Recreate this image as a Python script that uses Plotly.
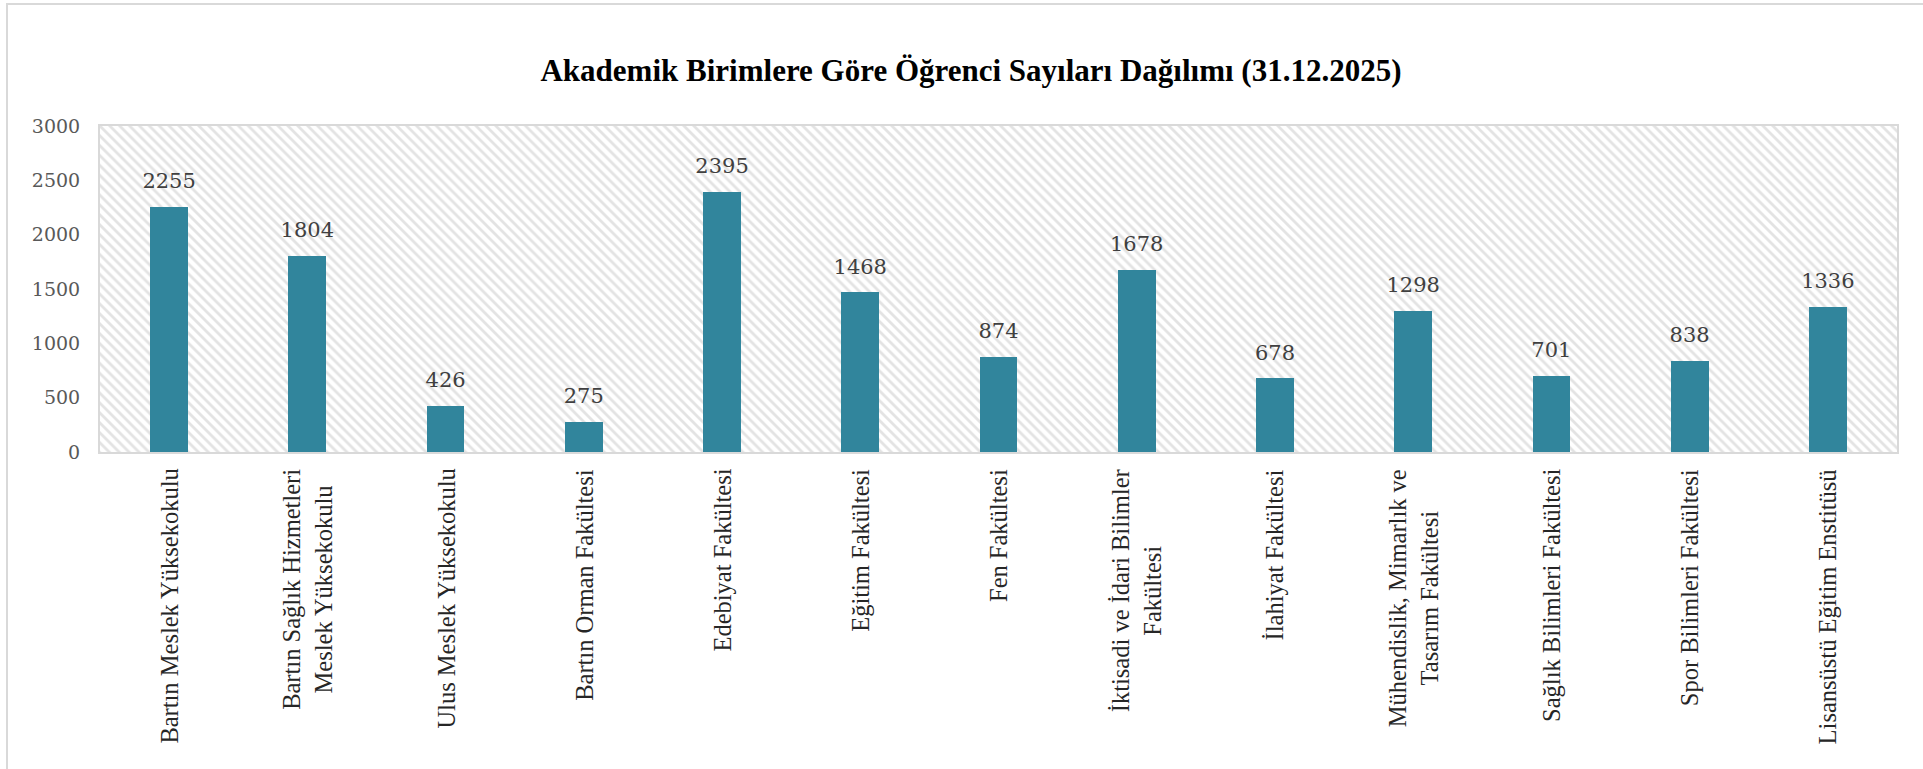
import plotly.graph_objects as go

categories = [
    "Bartın Meslek Yüksekokulu",
    "Bartın Sağlık Hizmetleri<br>Meslek Yüksekokulu",
    "Ulus Meslek Yüksekokulu",
    "Bartın Orman Fakültesi",
    "Edebiyat Fakültesi",
    "Eğitim Fakültesi",
    "Fen Fakültesi",
    "İktisadi ve İdari Bilimler<br>Fakültesi",
    "İlahiyat Fakültesi",
    "Mühendislik, Mimarlık ve<br>Tasarım Fakültesi",
    "Sağlık Bilimleri Fakültesi",
    "Spor Bilimleri Fakültesi",
    "Lisansüstü Eğitim Enstitüsü",
]
students = [2255, 1804, 426, 275, 2395, 1468, 874, 1678, 678, 1298, 701, 838, 1336]
y_ticks = [0, 500, 1000, 1500, 2000, 2500, 3000]
title = "Akademik Birimlere Göre Öğrenci Sayıları Dağılımı (31.12.2025)"

y_max = y_ticks[-1]
grid = "#d9d9d9"
W, H = 1923, 769
ML, MR, MT, MB = 100, 26, 126, 317
PW, PH = W - ML - MR, H - MT - MB

fig = go.Figure()

# hatched plot-area background
fig.add_trace(go.Bar(
    x=categories, y=[y_max] * len(categories), width=1,
    marker=dict(color="white", line=dict(width=0),
                pattern=dict(shape="\\", fgcolor="#c8c8c8", bgcolor="white",
                             size=7, solidity=0.4)),
    hoverinfo="skip", showlegend=False,
))

fig.add_trace(go.Bar(
    x=categories, y=students, width=0.273,
    marker=dict(color="#31859C", line=dict(width=0)),
    showlegend=False,
))

fig.add_trace(go.Scatter(
    x=categories, y=students, mode="markers+text",
    text=[str(v) for v in students], textposition="top center",
    marker=dict(size=20, opacity=0),
    textfont=dict(family="DejaVu Serif", size=21, color="#404040"),
    hoverinfo="skip", showlegend=False, cliponaxis=False,
))

# category labels (centred multi-line, rotated)
annotations = [
    dict(x=c, xref="x", y=-16 / PH, yref="paper", text=c, showarrow=False,
         textangle=-90, xanchor="center", yanchor="top", align="center", borderpad=0,
         font=dict(family="Liberation Serif", size=24.5, color="#262626"))
    for c in categories
]

fig.update_layout(
    width=W, height=H,
    paper_bgcolor="white", plot_bgcolor="white",
    barmode="overlay", bargap=0,
    margin=dict(l=ML, r=MR, t=MT, b=MB, autoexpand=False),
    title=dict(text="<b>" + title + "</b>", x=971 / W, xanchor="center",
               y=1 - 70 / H, yanchor="middle",
               font=dict(family="Liberation Serif", size=31, color="black")),
    annotations=annotations,
    shapes=[dict(type="rect", xref="paper", yref="paper",
                 x0=(7 - ML) / PW, x1=(W + 20 - ML) / PW,
                 y0=(H - MB - 4) / PH, y1=-(MB + 20) / PH,
                 line=dict(color=grid, width=2))],
)

fig.update_xaxes(
    type="category", tickson="boundaries", showgrid=True, gridcolor=grid, gridwidth=2,
    showline=True, linecolor=grid, linewidth=2, mirror=True,
    ticks="", showticklabels=False,
    range=[-0.5, len(categories) - 0.5],
)
fig.update_yaxes(
    range=[0, y_max], tickvals=y_ticks, showgrid=True, gridcolor=grid, gridwidth=2,
    showline=True, linecolor=grid, linewidth=2, mirror=True, zeroline=False,
    ticks="", ticklabelstandoff=14,
    tickfont=dict(family="DejaVu Serif", size=19, color="#595959"),
)

fig.write_html("out.html", config={"displayModeBar": False},
               post_script="document.body.style.margin='0';document.body.style.overflow='hidden';")
